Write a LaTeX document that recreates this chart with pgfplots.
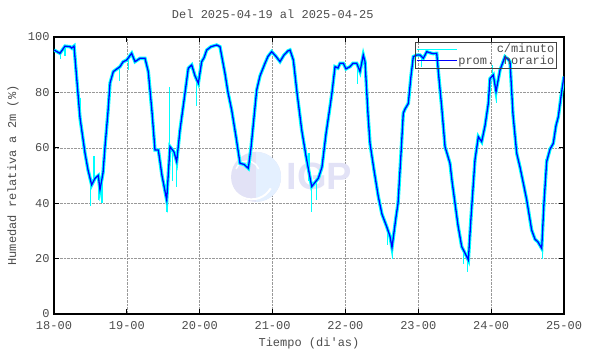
\documentclass[border=0pt]{standalone}
\usepackage{pgfplots}
\pgfplotsset{compat=1.18}
\usepackage{pgfplotstable}
\usepackage{fontspec}
\setmainfont{Liberation Mono}[Ligatures=TeXOff]
\newfontfamily\logofont{Liberation Sans}
\definecolor{cmin}{RGB}{0,255,255}
\definecolor{phor}{RGB}{0,0,255}
\definecolor{wlav}{RGB}{226,226,246}
\definecolor{wblue}{RGB}{228,240,255}

\pgfplotstableread{
x y
18.000 95.3
18.082 94.1
18.151 96.7
18.220 96.5
18.243 96.0
18.275 96.7
18.357 70.8
18.426 58.0
18.467 52.0
18.517 46.6
18.563 49.0
18.608 50.0
18.631 44.8
18.673 51.0
18.700 60.4
18.741 73.0
18.769 83.4
18.814 87.5
18.865 88.5
18.906 89.3
18.947 91.0
18.998 91.7
19.066 94.1
19.112 91.1
19.180 92.3
19.249 92.3
19.294 87.5
19.345 73.0
19.386 59.2
19.432 59.2
19.482 50.0
19.547 41.2
19.592 60.4
19.647 58.5
19.684 55.0
19.729 66.4
19.784 77.0
19.843 88.7
19.890 89.9
19.935 86.0
19.981 83.3
20.027 91.1
20.059 92.5
20.096 95.3
20.155 96.5
20.233 97.1
20.278 96.5
20.347 86.8
20.388 80.0
20.439 73.6
20.498 64.0
20.553 54.4
20.608 54.0
20.667 52.6
20.704 60.0
20.782 80.9
20.828 86.0
20.896 90.5
20.937 93.0
20.988 94.7
21.047 93.0
21.102 91.1
21.157 93.5
21.212 95.0
21.239 95.3
21.285 91.7
21.335 80.0
21.400 66.4
21.459 57.0
21.537 46.0
21.582 47.5
21.628 49.0
21.678 53.0
21.733 65.0
21.788 74.8
21.816 80.0
21.857 89.3
21.898 88.8
21.926 90.5
21.971 90.5
22.008 88.5
22.063 89.3
22.104 90.5
22.155 90.5
22.200 87.5
22.245 93.5
22.269 91.1
22.310 72.0
22.337 61.6
22.392 52.0
22.451 42.4
22.502 36.0
22.567 31.5
22.612 28.0
22.639 24.0
22.694 35.0
22.722 40.0
22.763 58.0
22.794 72.5
22.818 74.0
22.863 76.0
22.900 86.0
22.932 92.9
22.982 93.5
23.024 93.5
23.069 92.3
23.116 94.7
23.161 94.3
23.202 94.0
23.253 94.1
23.284 85.0
23.321 74.8
23.367 60.4
23.435 54.4
23.463 48.0
23.504 40.0
23.545 32.0
23.596 24.3
23.641 22.0
23.687 19.5
23.724 35.0
23.778 55.6
23.824 64.0
23.870 62.2
23.916 68.0
23.961 76.0
23.984 85.0
24.030 86.3
24.067 80.3
24.122 88.1
24.190 92.9
24.231 92.0
24.259 91.1
24.300 72.0
24.351 58.0
24.396 53.0
24.451 46.0
24.488 41.2
24.533 34.0
24.556 30.3
24.602 27.0
24.643 26.0
24.694 23.7
24.725 40.0
24.762 55.0
24.808 59.5
24.853 61.6
24.890 68.0
24.922 71.2
24.968 80.3
25.000 85.7
}\hourly

\begin{document}
\begin{tikzpicture}
\begin{axis}[
  scale only axis,
  width=510bp, height=277bp,
  xmin=18, xmax=25, ymin=0, ymax=100,
  xtick={18,19,...,25},
  xticklabels={18-00,19-00,20-00,21-00,22-00,23-00,24-00,25-00},
  ytick={0,20,...,100},
  /pgf/number format/assume math mode=true,
  tick label style={font=\fontsize{12bp}{14bp}\selectfont, text=black!70},
  xticklabel style={yshift=-4bp},
  yticklabel style={xshift=-1bp},
  xtick pos=both, ytick pos=both,
  xticklabel pos=bottom, yticklabel pos=left,
  tick align=inside,
  major tick length=5bp,
  every tick/.style={black, line width=1bp},
  axis line style={black, line width=1.3bp},
  grid=major,
  grid style={densely dotted, black!40, line width=0.5bp},
  title={Del 2025-04-19 al 2025-04-25},
  title style={at={(axis description cs:0.429,1.0614)}, anchor=center,
    font=\fontsize{12bp}{14bp}\selectfont, text=black!70},
  xlabel={Tiempo (di'as)},
  xlabel style={at={(axis description cs:0.5,-0.106)}, anchor=center,
    font=\fontsize{12bp}{14bp}\selectfont, text=black!70},
  ylabel={Humedad relativa a 2m (\%)},
  ylabel style={at={(axis description cs:-0.0804,0.5)}, anchor=center,
    font=\fontsize{12bp}{14bp}\selectfont, text=black!70},
  unbounded coords=jump,
  legend style={at={(axis description cs:0.986,0.983)}, anchor=north east,
    draw=black!75, fill=none, line width=0.6bp,
    font=\fontsize{12bp}{12bp}\selectfont, text=black!70,
    inner sep=1bp, row sep=-1bp,
    nodes={inner sep=1.2bp}},
  legend cell align=right,
  legend image code/.code={\draw[#1, line width=1.2bp] (0bp,0bp) -- (40bp,0bp);},
  clip=true,
]
% watermark
\begin{scope}
\fill[wlav] (axis cs:20.773,49.5) circle[radius=25bp];
\fill[wblue] (axis cs:20.773,49.5) ++(90:25bp) arc[start angle=90,end angle=-90,radius=25bp] -- cycle;
\draw[white, line width=2bp] (axis cs:20.773,49.5) ++(-25bp,-8bp) arc[start angle=200,end angle=330,radius=22bp];
\draw[white, line width=1.5bp] (axis cs:20.773,49.5) ++(-20bp,8bp) arc[start angle=160,end angle=20,radius=12bp];
\node[text=wlav, font=\logofont\bfseries\fontsize{38bp}{38bp}\selectfont, anchor=west, inner sep=0pt]
  at (axis cs:21.19,49.5) {IGP};
\end{scope}
\addplot[cmin, line width=3.4bp] table[x=x,y=y] {\hourly};
\addlegendentry{c/minuto}
\addplot[cmin, line width=1.2bp, forget plot] coordinates {
(18.09,95) (18.09,92) (18.09,nan)
(18.15,96) (18.15,93) (18.15,nan)
(18.36,70) (18.36,78) (18.36,nan)
(18.50,47) (18.50,39) (18.50,nan)
(18.55,48) (18.55,57) (18.55,nan)
(18.61,46) (18.61,41) (18.61,nan)
(18.66,50) (18.66,40) (18.66,nan)
(18.90,89) (18.90,84) (18.90,nan)
(19.02,92) (19.02,88) (19.02,nan)
(19.55,42) (19.55,37) (19.55,nan)
(19.58,55) (19.58,82) (19.58,nan)
(19.63,58) (19.63,48) (19.63,nan)
(19.68,55) (19.68,46) (19.68,nan)
(19.96,84) (19.96,75) (19.96,nan)
(20.50,62) (20.50,66) (20.50,nan)
(20.74,73) (20.74,66) (20.74,nan)
(21.50,48) (21.50,58) (21.50,nan)
(21.53,46) (21.53,37) (21.53,nan)
(21.60,48) (21.60,41) (21.60,nan)
(22.17,89) (22.17,83) (22.17,nan)
(22.58,30) (22.58,25) (22.58,nan)
(22.65,24) (22.65,20) (22.65,nan)
(23.04,93) (23.04,89) (23.04,nan)
(23.62,23) (23.62,18) (23.62,nan)
(23.68,20) (23.68,15) (23.68,nan)
(24.02,86) (24.02,90) (24.02,nan)
(24.07,80) (24.07,76) (24.07,nan)
(24.30,75) (24.30,70) (24.30,nan)
(24.70,24) (24.70,20) (24.70,nan)
(24.75,50) (24.75,56)
};
\addplot[phor, line width=1.3bp] table[x=x,y=y] {\hourly};
\addlegendentry{prom. horario}
\coordinate (bl) at (rel axis cs:0,0);
\coordinate (tr) at (rel axis cs:1,1);
\end{axis}
\pgfresetboundingbox
\path[use as bounding box] ([shift={(-54bp,-40bp)}]bl) rectangle ([shift={(26bp,37bp)}]tr);
\end{tikzpicture}
\end{document}
